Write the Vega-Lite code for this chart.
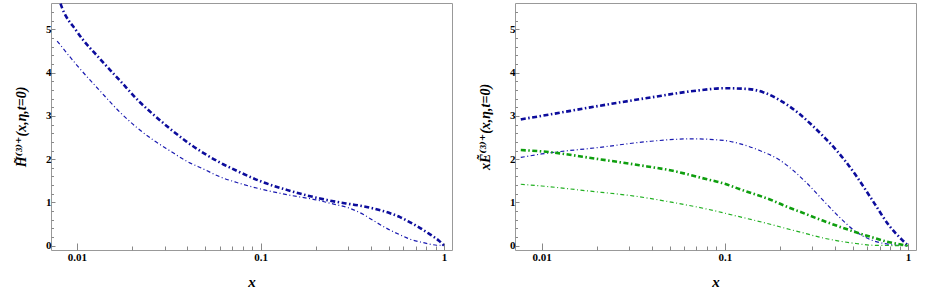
{
  "$schema": "https://vega.github.io/schema/vega-lite/v6.json",
  "background": "white",
  "padding": {"left": 14, "top": 2, "right": 0, "bottom": 0},
  "config": {
    "view": {"stroke": "#999999", "strokeWidth": 1},
    "axis": {
      "domain": false, "grid": false,
      "labelFont": "Liberation Serif", "labelFontWeight": "bold", "labelFontSize": 11, "labelColor": "#000000",
      "tickColor": "#888888", "tickWidth": 1,
      "titleFont": "Liberation Serif, DejaVu Serif", "titleFontStyle": "italic", "titleFontWeight": "bold", "titleFontSize": 15, "titleColor": "#000000"
    }
  },
  "datasets": {
    "h": [
      {"s": "thick", "x": 0.0078, "y": 5.85}, {"s": "thick", "x": 0.0081, "y": 5.62}, {"s": "thick", "x": 0.01, "y": 4.95},
      {"s": "thick", "x": 0.0134, "y": 4.31}, {"s": "thick", "x": 0.0172, "y": 3.81}, {"s": "thick", "x": 0.0221, "y": 3.31},
      {"s": "thick", "x": 0.0261, "y": 3.03}, {"s": "thick", "x": 0.0322, "y": 2.70}, {"s": "thick", "x": 0.0397, "y": 2.40},
      {"s": "thick", "x": 0.049, "y": 2.14}, {"s": "thick", "x": 0.0603, "y": 1.92}, {"s": "thick", "x": 0.0743, "y": 1.73},
      {"s": "thick", "x": 0.1, "y": 1.49}, {"s": "thick", "x": 0.139, "y": 1.29}, {"s": "thick", "x": 0.211, "y": 1.09},
      {"s": "thick", "x": 0.24, "y": 1.04}, {"s": "thick", "x": 0.308, "y": 0.96}, {"s": "thick", "x": 0.364, "y": 0.91},
      {"s": "thick", "x": 0.42, "y": 0.85}, {"s": "thick", "x": 0.508, "y": 0.75}, {"s": "thick", "x": 0.576, "y": 0.66},
      {"s": "thick", "x": 0.653, "y": 0.54}, {"s": "thick", "x": 0.72, "y": 0.44}, {"s": "thick", "x": 0.805, "y": 0.31},
      {"s": "thick", "x": 0.875, "y": 0.21}, {"s": "thick", "x": 0.935, "y": 0.12}, {"s": "thick", "x": 1.0, "y": 0.0},
      {"s": "thin", "x": 0.0078, "y": 4.73}, {"s": "thin", "x": 0.01, "y": 4.17}, {"s": "thin", "x": 0.0134, "y": 3.57},
      {"s": "thin", "x": 0.0172, "y": 3.08}, {"s": "thin", "x": 0.0212, "y": 2.73}, {"s": "thin", "x": 0.0261, "y": 2.44},
      {"s": "thin", "x": 0.0322, "y": 2.19}, {"s": "thin", "x": 0.0397, "y": 1.95}, {"s": "thin", "x": 0.049, "y": 1.77},
      {"s": "thin", "x": 0.0603, "y": 1.59}, {"s": "thin", "x": 0.0743, "y": 1.46}, {"s": "thin", "x": 0.1, "y": 1.31},
      {"s": "thin", "x": 0.139, "y": 1.18}, {"s": "thin", "x": 0.211, "y": 1.04}, {"s": "thin", "x": 0.24, "y": 0.98},
      {"s": "thin", "x": 0.308, "y": 0.86}, {"s": "thin", "x": 0.364, "y": 0.72}, {"s": "thin", "x": 0.412, "y": 0.58},
      {"s": "thin", "x": 0.508, "y": 0.36}, {"s": "thin", "x": 0.576, "y": 0.25}, {"s": "thin", "x": 0.653, "y": 0.15},
      {"s": "thin", "x": 0.771, "y": 0.07}, {"s": "thin", "x": 0.85, "y": 0.03}, {"s": "thin", "x": 0.913, "y": 0.01},
      {"s": "thin", "x": 0.96, "y": 0.01}, {"s": "thin", "x": 1.0, "y": 0.0}
    ],
    "e": [
      {"s": "blue thick", "x": 0.0077, "y": 2.92}, {"s": "blue thick", "x": 0.01, "y": 3.0}, {"s": "blue thick", "x": 0.0205, "y": 3.23},
      {"s": "blue thick", "x": 0.0385, "y": 3.42}, {"s": "blue thick", "x": 0.072, "y": 3.59}, {"s": "blue thick", "x": 0.1, "y": 3.64},
      {"s": "blue thick", "x": 0.135, "y": 3.62}, {"s": "blue thick", "x": 0.166, "y": 3.53}, {"s": "blue thick", "x": 0.2, "y": 3.36},
      {"s": "blue thick", "x": 0.253, "y": 3.06}, {"s": "blue thick", "x": 0.3, "y": 2.78}, {"s": "blue thick", "x": 0.35, "y": 2.50},
      {"s": "blue thick", "x": 0.4, "y": 2.24}, {"s": "blue thick", "x": 0.45, "y": 1.98}, {"s": "blue thick", "x": 0.52, "y": 1.62},
      {"s": "blue thick", "x": 0.641, "y": 1.04}, {"s": "blue thick", "x": 0.79, "y": 0.46}, {"s": "blue thick", "x": 0.935, "y": 0.12},
      {"s": "blue thick", "x": 1.0, "y": 0.0},
      {"s": "blue thin", "x": 0.0077, "y": 2.04}, {"s": "blue thin", "x": 0.01, "y": 2.12}, {"s": "blue thin", "x": 0.0205, "y": 2.27},
      {"s": "blue thin", "x": 0.0385, "y": 2.41}, {"s": "blue thin", "x": 0.0663, "y": 2.47}, {"s": "blue thin", "x": 0.1, "y": 2.43},
      {"s": "blue thin", "x": 0.12, "y": 2.36}, {"s": "blue thin", "x": 0.155, "y": 2.2}, {"s": "blue thin", "x": 0.199, "y": 1.98},
      {"s": "blue thin", "x": 0.224, "y": 1.82}, {"s": "blue thin", "x": 0.278, "y": 1.46}, {"s": "blue thin", "x": 0.342, "y": 1.06},
      {"s": "blue thin", "x": 0.422, "y": 0.66}, {"s": "blue thin", "x": 0.52, "y": 0.32}, {"s": "blue thin", "x": 0.641, "y": 0.12},
      {"s": "blue thin", "x": 0.79, "y": 0.03}, {"s": "blue thin", "x": 1.0, "y": 0.0},
      {"s": "green thick", "x": 0.0077, "y": 2.21}, {"s": "green thick", "x": 0.01, "y": 2.18}, {"s": "green thick", "x": 0.0205, "y": 2.0},
      {"s": "green thick", "x": 0.0342, "y": 1.86}, {"s": "green thick", "x": 0.052, "y": 1.73}, {"s": "green thick", "x": 0.079, "y": 1.54},
      {"s": "green thick", "x": 0.1, "y": 1.43}, {"s": "green thick", "x": 0.12, "y": 1.31}, {"s": "green thick", "x": 0.183, "y": 1.04},
      {"s": "green thick", "x": 0.224, "y": 0.88}, {"s": "green thick", "x": 0.255, "y": 0.79}, {"s": "green thick", "x": 0.342, "y": 0.58},
      {"s": "green thick", "x": 0.52, "y": 0.31}, {"s": "green thick", "x": 0.641, "y": 0.19}, {"s": "green thick", "x": 0.79, "y": 0.08},
      {"s": "green thick", "x": 1.0, "y": 0.0},
      {"s": "green thin", "x": 0.0077, "y": 1.42}, {"s": "green thin", "x": 0.01, "y": 1.38}, {"s": "green thin", "x": 0.0175, "y": 1.27},
      {"s": "green thin", "x": 0.0342, "y": 1.13}, {"s": "green thin", "x": 0.052, "y": 1.0}, {"s": "green thin", "x": 0.079, "y": 0.85},
      {"s": "green thin", "x": 0.12, "y": 0.67}, {"s": "green thin", "x": 0.183, "y": 0.48}, {"s": "green thin", "x": 0.224, "y": 0.38},
      {"s": "green thin", "x": 0.255, "y": 0.32}, {"s": "green thin", "x": 0.342, "y": 0.18}, {"s": "green thin", "x": 0.52, "y": 0.05},
      {"s": "green thin", "x": 0.641, "y": 0.01}, {"s": "green thin", "x": 1.0, "y": 0.0}
    ]
  },
  "hconcat": [
    {
      "width": 401, "height": 247,
      "data": {"name": "h"},
      "mark": {"type": "line", "interpolate": "monotone", "clip": true, "strokeCap": "butt"},
      "encoding": {
        "x": {"field": "x", "type": "quantitative",
          "scale": {"type": "log", "domain": [0.00722, 1.105], "nice": false},
          "axis": {"title": "x", "values": [0.01, 0.02, 0.03, 0.04, 0.05, 0.06, 0.07, 0.08, 0.09, 0.1, 0.2, 0.3, 0.4, 0.5, 0.6, 0.7, 0.8, 0.9, 1],
            "labelExpr": "(datum.value == 0.01 || datum.value == 0.1 || datum.value == 1) ? format(datum.value, '~g') : ''",
            "tickSize": {"condition": {"test": "datum.value == 0.01 || datum.value == 0.1 || datum.value == 1", "value": -7}, "value": -4},
            "labelPadding": 8, "titlePadding": 12}},
        "y": {"field": "y", "type": "quantitative",
          "scale": {"domain": [-0.1, 5.61], "nice": false, "zero": false},
          "axis": {"title": "H̃⁽³⁾⁺(x,η,t=0)", "titleFontSize": 14, "values": [0, 0.2, 0.4, 0.6, 0.8, 1, 1.2, 1.4, 1.6, 1.8, 2, 2.2, 2.4, 2.6, 2.8, 3, 3.2, 3.4, 3.6, 3.8, 4, 4.2, 4.4, 4.6, 4.8, 5, 5.2, 5.4],
            "labelExpr": "(datum.value % 1 == 0) ? format(datum.value, 'd') : ''",
            "tickSize": {"condition": {"test": "datum.value % 1 == 0", "value": -4}, "value": -2.5},
            "labelPadding": 4, "titlePadding": 17}},
        "color": {"field": "s", "type": "nominal", "legend": null,
          "scale": {"domain": ["thick", "thin"], "range": ["#0c0c9c", "#1a1ab0"]}},
        "strokeWidth": {"field": "s", "type": "nominal", "legend": null,
          "scale": {"type": "ordinal", "domain": ["thick", "thin"], "range": [2.6, 1.2]}},
        "strokeDash": {"field": "s", "type": "nominal", "legend": null,
          "scale": {"domain": ["thick", "thin"], "range": [[5, 2.5, 1.5, 2.5], [4, 2.5, 1, 2.5]]}}
      }
    },
    {
      "width": 401, "height": 247,
      "data": {"name": "e"},
      "mark": {"type": "line", "interpolate": "monotone", "clip": true, "strokeCap": "butt"},
      "encoding": {
        "x": {"field": "x", "type": "quantitative",
          "scale": {"type": "log", "domain": [0.00716, 1.105], "nice": false},
          "axis": {"title": "x", "values": [0.01, 0.02, 0.03, 0.04, 0.05, 0.06, 0.07, 0.08, 0.09, 0.1, 0.2, 0.3, 0.4, 0.5, 0.6, 0.7, 0.8, 0.9, 1],
            "labelExpr": "(datum.value == 0.01 || datum.value == 0.1 || datum.value == 1) ? format(datum.value, '~g') : ''",
            "tickSize": {"condition": {"test": "datum.value == 0.01 || datum.value == 0.1 || datum.value == 1", "value": -7}, "value": -4},
            "labelPadding": 8, "titlePadding": 12}},
        "y": {"field": "y", "type": "quantitative",
          "scale": {"domain": [-0.1, 5.61], "nice": false, "zero": false},
          "axis": {"title": "xẼ⁽³⁾⁺(x,η,t=0)", "titleFontSize": 14, "values": [0, 0.2, 0.4, 0.6, 0.8, 1, 1.2, 1.4, 1.6, 1.8, 2, 2.2, 2.4, 2.6, 2.8, 3, 3.2, 3.4, 3.6, 3.8, 4, 4.2, 4.4, 4.6, 4.8, 5, 5.2, 5.4],
            "labelExpr": "(datum.value % 1 == 0) ? format(datum.value, 'd') : ''",
            "tickSize": {"condition": {"test": "datum.value % 1 == 0", "value": -4}, "value": -2.5},
            "labelPadding": 4, "titlePadding": 17}},
        "color": {"field": "s", "type": "nominal", "legend": null,
          "scale": {"domain": ["blue thick", "blue thin", "green thick", "green thin"], "range": ["#0c0c9c", "#1a1ab0", "#0e9e0e", "#22b022"]}},
        "strokeWidth": {"field": "s", "type": "nominal", "legend": null,
          "scale": {"type": "ordinal", "domain": ["blue thick", "blue thin", "green thick", "green thin"], "range": [2.6, 1.2, 2.6, 1.2]}},
        "strokeDash": {"field": "s", "type": "nominal", "legend": null,
          "scale": {"domain": ["blue thick", "blue thin", "green thick", "green thin"], "range": [[5, 2.5, 1.5, 2.5], [4, 2.5, 1, 2.5], [5, 2.5, 1.5, 2.5], [4, 2.5, 1, 2.5]]}}
      }
    }
  ],
  "spacing": 63,
  "bounds": "flush",
  "resolve": {"scale": {"color": "independent", "strokeWidth": "independent", "strokeDash": "independent"}}
}
